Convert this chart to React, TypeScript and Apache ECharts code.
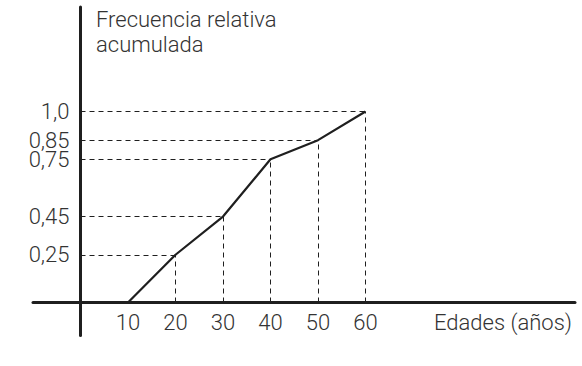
import React, { useEffect, useRef } from "react";
import * as echarts from "echarts";

const ages = [10, 20, 30, 40, 50, 60];
const cumFreq = [0, 0.25, 0.45, 0.75, 0.85, 1.0];
const xTicks = [10, 20, 30, 40, 50, 60];
const yTicks = [0.25, 0.45, 0.75, 0.85, 1.0];
const yTickLabels = ["0,25", "0,45", "0,75", "0,85", "1,0"];
const yTitle = "Frecuencia relativa\nacumulada";
const xTitle = "Edades (años)";

const FONT = "Roboto";
const FS = 22;
const TEXT = "#333";
const LINE = "#1f1f1f";

// layout (pixels)
const W = 582;
const H = 366;
const ORIGIN_X = 80.5;
const ORIGIN_Y = 302.5;
const X_SCALE = 4.75; // px per year
const Y_SCALE = 191; // px per unit
const AXIS_LEFT = 33;
const AXIS_RIGHT = 575;
const AXIS_TOP = 7;
const AXIS_BOTTOM = 335.5;

const xMin = -(ORIGIN_X - AXIS_LEFT) / X_SCALE;
const xMax = (AXIS_RIGHT - ORIGIN_X) / X_SCALE;
const yMax = (ORIGIN_Y - AXIS_TOP) / Y_SCALE;
const yMin = -(AXIS_BOTTOM - ORIGIN_Y) / Y_SCALE;

export default function App() {
  const ref = useRef<HTMLDivElement>(null);
  useEffect(() => {
    if (!ref.current) return;
    const chart = echarts.init(ref.current, undefined, { renderer: "svg" });
    const points = ages.map((a, i) => [a, cumFreq[i]]);
    const guides: any[] = [];
    points.forEach(([x, y]) => {
      if (y <= 0) return;
      guides.push([{ coord: [0, y] }, { coord: [x, y] }]);
      guides.push([{ coord: [x, 0] }, { coord: [x, y] }]);
    });
    const labelStyle = {
      fontFamily: FONT,
      fontWeight: 300,
      fontSize: FS,
      color: TEXT,
    };
    chart.setOption({
      animation: false,
      grid: [
        {
          left: AXIS_LEFT,
          right: W - AXIS_RIGHT,
          top: AXIS_TOP,
          bottom: H - AXIS_BOTTOM,
          outerBoundsMode: "none",
          containLabel: false,
        },
        {
          left: ORIGIN_X,
          right: W - AXIS_RIGHT,
          top: AXIS_TOP,
          bottom: H - ORIGIN_Y,
          outerBoundsMode: "none",
          containLabel: false,
        },
      ],
      xAxis: [
        {
          gridIndex: 0,
          type: "value",
          min: xMin,
          max: xMax,
          axisLine: { show: true, onZero: true, lineStyle: { color: LINE, width: 3 } },
          axisTick: { show: false },
          splitLine: { show: false },
          axisLabel: { show: false },
          z: 5,
        },
        {
          gridIndex: 1,
          type: "value",
          min: 0,
          max: xMax,
          axisLine: { show: false },
          axisTick: { show: false },
          splitLine: { show: false },
          axisLabel: { customValues: xTicks, margin: 9, ...labelStyle },
        },
      ],
      yAxis: [
        {
          gridIndex: 0,
          type: "value",
          min: yMin,
          max: yMax,
          axisLine: { show: true, onZero: true, lineStyle: { color: LINE, width: 3 } },
          axisTick: { show: false },
          splitLine: { show: false },
          axisLabel: { show: false },
          z: 5,
        },
        {
          gridIndex: 1,
          type: "value",
          min: 0,
          max: yMax,
          axisLine: { show: false },
          axisTick: { show: false },
          splitLine: { show: false },
          axisLabel: {
            customValues: yTicks,
            margin: 11,
            ...labelStyle,
            lineHeight: 17,
            hideOverlap: false,
            formatter: (v: number) => {
              const i = yTicks.findIndex((t) => Math.abs(t - v) < 1e-6);
              return i >= 0 ? yTickLabels[i] : "";
            },
          },
        },
      ],
      graphic: [
        {
          type: "text",
          left: 96,
          top: 7,
          style: {
            text: yTitle,
            fontFamily: FONT,
            fontWeight: 300,
            fontSize: FS,
            lineHeight: 25,
            fill: TEXT,
          },
        },
        {
          type: "text",
          right: 10,
          top: 311,
          style: {
            text: xTitle,
            fontFamily: FONT,
            fontWeight: 300,
            fontSize: FS,
            fill: TEXT,
          },
        },
      ],
      series: [
        {
          type: "line",
          xAxisIndex: 1,
          yAxisIndex: 1,
          data: points,
          symbol: "none",
          lineStyle: { color: LINE, width: 2.2 },
          z: 3,
          markLine: {
            silent: true,
            symbol: "none",
            label: { show: false },
            lineStyle: { color: LINE, width: 1, type: [5, 4] },
            data: guides,
          },
        },
      ],
    });
    return () => chart.dispose();
  }, []);
  return (
    <div
      ref={ref}
      style={{ position: "absolute", left: 0, top: 0, width: W, height: H, background: "#fff" }}
    />
  );
}
